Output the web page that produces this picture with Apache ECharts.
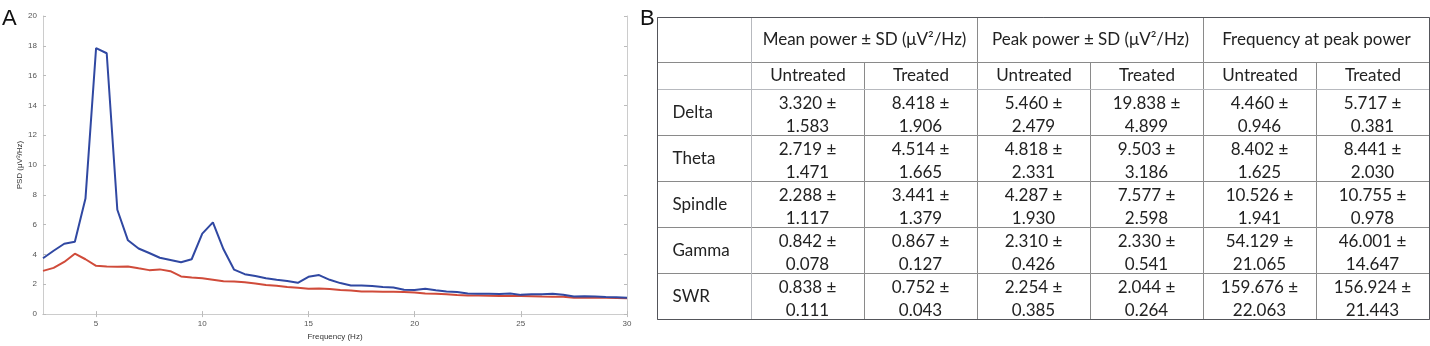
<!DOCTYPE html>
<html>
<head>
<meta charset="utf-8">
<script src="https://cdn.jsdelivr.net/npm/echarts@6/dist/echarts.min.js"></script>
<style>
html, body { margin: 0; padding: 0; background: #fff; }
#main { width: 1430px; height: 346px; }
</style>
</head>
<body>
<div id="main"></div>
<script>
// panel A: PSD curves
var freq = [2.5, 3, 3.5, 4, 4.5, 5, 5.5, 6, 6.5, 7, 7.5, 8, 8.5, 9, 9.5, 10, 10.5, 11, 11.5, 12,
	12.5, 13, 13.5, 14, 14.5, 15, 15.5, 16, 16.5, 17, 17.5, 18, 18.5, 19, 19.5, 20, 20.5, 21, 21.5, 22,
	22.5, 23, 23.5, 24, 24.5, 25, 25.5, 26, 26.5, 27, 27.5, 28, 28.5, 29, 29.5, 30];
var treated = [3.75, 4.25, 4.72, 4.85, 7.75, 17.85, 17.5, 7.0, 4.95, 4.4, 4.1, 3.78, 3.63, 3.48, 3.68, 5.4, 6.15, 4.35, 2.98, 2.68,
	2.55, 2.4, 2.3, 2.22, 2.1, 2.5, 2.62, 2.3, 2.08, 1.92, 1.92, 1.88, 1.82, 1.78, 1.63, 1.62, 1.7, 1.6, 1.52, 1.48,
	1.38, 1.37, 1.36, 1.35, 1.38, 1.29, 1.33, 1.33, 1.36, 1.3, 1.18, 1.2, 1.18, 1.15, 1.13, 1.1];
var untreated = [2.9, 3.1, 3.5, 4.05, 3.68, 3.24, 3.2, 3.18, 3.2, 3.07, 2.95, 3.0, 2.88, 2.53, 2.45, 2.4, 2.3, 2.2, 2.18, 2.13,
	2.06, 1.96, 1.9, 1.82, 1.76, 1.7, 1.71, 1.68, 1.62, 1.58, 1.52, 1.52, 1.5, 1.5, 1.48, 1.45, 1.38, 1.36, 1.33, 1.28,
	1.24, 1.24, 1.23, 1.22, 1.22, 1.22, 1.2, 1.18, 1.17, 1.16, 1.1, 1.12, 1.1, 1.09, 1.08, 1.07];
var xTicks = [5, 10, 15, 20, 25, 30];

// panel B: table (mean ± sd per cell)
var groups = ['Mean power \u00b1 SD (\u03bcV\u00b2/Hz)', 'Peak power \u00b1 SD (\u03bcV\u00b2/Hz)', 'Frequency at peak power'];
var subCols = ['Untreated', 'Treated'];
var bands = ['Delta', 'Theta', 'Spindle', 'Gamma', 'SWR'];
var means = [
	['3.320', '8.418', '5.460', '19.838', '4.460', '5.717'],
	['2.719', '4.514', '4.818', '9.503', '8.402', '8.441'],
	['2.288', '3.441', '4.287', '7.577', '10.526', '10.755'],
	['0.842', '0.867', '2.310', '2.330', '54.129', '46.001'],
	['0.838', '0.752', '2.254', '2.044', '159.676', '156.924']
];
var sds = [
	['1.583', '1.906', '2.479', '4.899', '0.946', '0.381'],
	['1.471', '1.665', '2.331', '3.186', '1.625', '2.030'],
	['1.117', '1.379', '1.930', '2.598', '1.941', '0.978'],
	['0.078', '0.127', '0.426', '0.541', '21.065', '14.647'],
	['0.111', '0.043', '0.385', '0.264', '22.063', '21.443']
];

var lineFont = 'Liberation Sans';
var tableFont = 'Lato';
var gridColor = '#8a8a8a';
var textColor = '#222';

// sub headers repeat under each group, so make the values unique with zero-width spaces
var leafCols = [];
var xHeader = groups.map(function (g, gi) {
	var pad = new Array(gi + 1).join('\u200b');
	return {
		value: g,
		children: subCols.map(function (s) {
			leafCols.push(s + pad);
			return { value: s + pad };
		})
	};
});
var cellData = [];
means.forEach(function (row, r) {
	row.forEach(function (m, c) {
		cellData.push({ value: [leafCols[c], bands[r]], text: m + ' \u00b1\n' + sds[r][c] });
	});
});

var myChart = echarts.init(document.getElementById('main'));
var option = {
	backgroundColor: '#fff',
	animation: false,
	title: [{
		text: 'A', left: 2, top: 8, padding: 0,
		textStyle: { fontFamily: lineFont, fontSize: 22, fontWeight: 'normal', color: '#111' }
	}, {
		text: 'B', left: 640, top: 8, padding: 0,
		textStyle: { fontFamily: lineFont, fontSize: 22, fontWeight: 'normal', color: '#111' }
	}],
	grid: {
		left: 43, right: 803, top: 16, bottom: 30
	},
	xAxis: [{
		type: 'value',
		min: 2.5,
		max: 30,
		name: 'Frequency (Hz)',
		nameLocation: 'middle',
		nameGap: 17,
		nameTextStyle: { fontFamily: lineFont, fontSize: 8, color: '#333' },
		axisLine: { lineStyle: { color: '#ccc' } },
		axisTick: { inside: true, length: 3, customValues: xTicks, lineStyle: { color: '#bbb' } },
		axisLabel: { customValues: xTicks, fontFamily: lineFont, fontSize: 8, color: '#555', margin: 6 },
		splitLine: { show: false }
	}, {
		type: 'value',
		position: 'top',
		min: 2.5,
		max: 30,
		axisLine: { lineStyle: { color: '#ccc' } },
		axisTick: { inside: true, length: 3, customValues: xTicks, lineStyle: { color: '#bbb' } },
		axisLabel: { show: false },
		splitLine: { show: false }
	}],
	yAxis: [{
		type: 'value',
		min: 0,
		max: 20,
		interval: 2,
		name: 'PSD (\u03bcV\u00b2/Hz)',
		nameLocation: 'middle',
		nameGap: 18,
		nameTextStyle: { fontFamily: lineFont, fontSize: 8, color: '#333' },
		axisLine: { show: true, lineStyle: { color: '#ccc' } },
		axisTick: { show: true, inside: true, length: 3, lineStyle: { color: '#bbb' } },
		axisLabel: { fontFamily: lineFont, fontSize: 8, color: '#555', margin: 6 },
		splitLine: { show: false }
	}, {
		type: 'value',
		position: 'right',
		min: 0,
		max: 20,
		interval: 2,
		axisLine: { show: true, lineStyle: { color: '#ccc' } },
		axisTick: { show: true, inside: true, length: 3, lineStyle: { color: '#bbb' } },
		axisLabel: { show: false },
		splitLine: { show: false }
	}],
	series: [{
		name: 'Untreated',
		type: 'line',
		showSymbol: false,
		lineStyle: { color: '#d04b3a', width: 2 },
		data: freq.map(function (f, i) { return [f, untreated[i]]; })
	}, {
		name: 'Treated',
		type: 'line',
		showSymbol: false,
		lineStyle: { color: '#3048a2', width: 2 },
		data: freq.map(function (f, i) { return [f, treated[i]]; })
	}, {
		name: 'table',
		type: 'scatter',
		coordinateSystem: 'matrix',
		symbolSize: 1,
		itemStyle: { color: 'rgba(0,0,0,0)' },
		silent: true,
		z: 10,
		label: {
			show: true,
			position: 'inside',
			offset: [0, 3],
			fontFamily: tableFont,
			fontSize: 17,
			color: textColor,
			opacity: 1,
			textBorderWidth: 0,
			lineHeight: 23,
			formatter: function (p) { return p.data.text; }
		},
		data: cellData
	}],
	matrix: {
		left: 657,
		top: 17,
		width: 772,
		height: 302,
		x: {
			data: xHeader,
			levels: [{ levelSize: 45 }, { levelSize: 27 }],
			label: { fontFamily: tableFont, fontSize: 17, color: textColor, overflow: 'none' },
			itemStyle: { borderColor: gridColor, borderWidth: 1, color: '#fff' }
		},
		y: {
			data: bands,
			levelSize: 94,
			label: { fontFamily: tableFont, fontSize: 17, color: textColor, position: 'insideLeft', distance: 12, overflow: 'none' },
			itemStyle: { borderColor: gridColor, borderWidth: 1, color: '#fff' }
		},
		body: {
			itemStyle: { borderColor: gridColor, borderWidth: 1, color: '#fff' }
		},
		corner: {
			itemStyle: { borderColor: gridColor, borderWidth: 1, color: '#fff' }
		}
	}
};
myChart.setOption(option);
</script>
</body>
</html>
